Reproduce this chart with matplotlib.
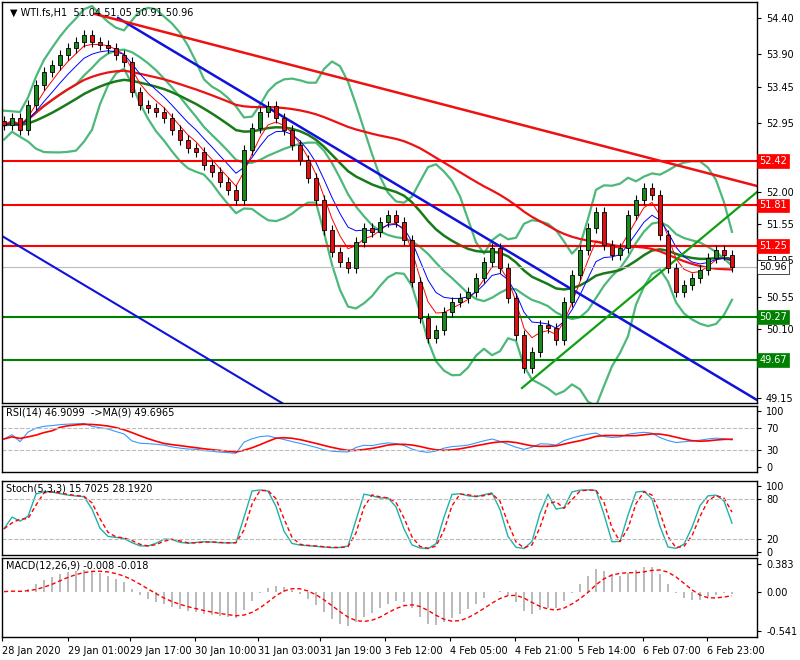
import numpy as np
import pandas as pd
import matplotlib
matplotlib.use("Agg")
import matplotlib.pyplot as plt

closes = [52.92,53.02,52.85,53.20,53.47,53.65,53.75,53.89,53.99,54.07,54.17,54.07,54.03,53.99,53.89,53.79,
53.38,53.20,53.16,53.10,53.02,52.85,52.71,52.60,52.55,52.37,52.27,52.13,52.02,51.89,52.58,52.88,53.10,53.18,
53.02,52.85,52.65,52.44,52.19,51.89,51.47,51.17,51.03,50.95,51.31,51.50,51.44,51.58,51.68,51.58,51.33,50.75,
50.26,49.98,50.09,50.34,50.48,50.53,50.61,50.81,51.03,51.22,50.95,50.53,50.02,49.56,49.79,50.16,50.12,49.95,
50.48,50.85,51.19,51.50,51.72,51.26,51.13,51.22,51.68,51.89,52.05,51.96,51.40,50.95,50.61,50.71,50.81,50.92,
51.08,51.19,51.13,50.96]
first_open = 52.98
hlines_red = [52.42, 51.81, 51.25]
hlines_green = [50.27, 49.67]
last_price = 50.96
price_ticks = [54.40,53.90,53.45,52.95,52.00,51.55,51.05,50.55,50.10,49.15]
time_labels = ["28 Jan 2020","29 Jan 01:00","29 Jan 17:00","30 Jan 10:00","31 Jan 03:00","31 Jan 19:00",
"3 Feb 12:00","4 Feb 05:00","4 Feb 21:00","5 Feb 14:00","6 Feb 07:00","6 Feb 23:00"]
time_label_px = [2,68,130,195,258,320,385,450,515,578,643,707]

c = pd.Series(closes)
o = pd.Series([first_open] + closes[:-1])
wick = 0.07
h = np.maximum(o, c) + wick
l = np.minimum(o, c) - wick
n = len(c)
x = np.arange(n)
px2x = lambda p: (p - 4) / 8.0

W, H = 800, 660
fig = plt.figure(figsize=(8, 6.6), dpi=100)
def ax_at(x0, y0, x1, y1):
    a = fig.add_axes([x0 / W, 1 - y1 / H, (x1 - x0) / W, (y1 - y0) / H])
    a.set_xlim(px2x(2), px2x(757))
    a.tick_params(axis='y', right=True, left=False, labelright=True, labelleft=False, labelsize=7, length=3)
    a.tick_params(axis='x', bottom=False, labelbottom=False)
    for s in a.spines.values():
        s.set_linewidth(1)
    return a

# main
ax = ax_at(2, 2, 757, 403)
p2y = lambda y: 54.40 - (y - 18) / 72.38
ax.set_ylim(p2y(403), p2y(2))
bb_mid = c.rolling(10, min_periods=1).mean()
bb_std = c.rolling(10, min_periods=1).std().fillna(0.1)
for band in [bb_mid + 2 * bb_std, bb_mid - 2 * bb_std, bb_mid]:
    ax.plot(x, band, color='#4cb87a', lw=1.6)
ax.plot(x, c.ewm(span=25, adjust=False).mean(), color='#1a7a1a', lw=1.8)
ax.plot(x, c.rolling(50, min_periods=1).mean(), color='#ee1111', lw=1.6)
ax.plot(x, c.ewm(span=4, adjust=False).mean(), color='red', lw=0.7)
ax.plot(x, c.ewm(span=7, adjust=False).mean(), color='blue', lw=0.7)
for y in hlines_red:
    ax.axhline(y, color='red', lw=1.5)
for y in hlines_green:
    ax.axhline(y, color='green', lw=1.5)
ax.axhline(last_price, color='#bbbbbb', lw=0.8)
ax.plot([px2x(118), px2x(757)], [p2y(18), p2y(400)], color='#1111dd', lw=1.8)
ax.plot([px2x(2), px2x(282)], [p2y(236), p2y(403)], color='#1111dd', lw=1.5)
ax.plot([px2x(95), px2x(757)], [p2y(14), p2y(186)], color='#ee1111', lw=1.8)
ax.plot([px2x(522), px2x(757)], [p2y(388), p2y(192)], color='#11a011', lw=1.6)
for i in range(n):
    col = '#1a8a1a' if c[i] >= o[i] else '#dd1111'
    ax.vlines(i, l[i], h[i], color='black', lw=0.8)
    ax.add_patch(plt.Rectangle((i - 0.28, min(o[i], c[i])), 0.56, max(abs(c[i] - o[i]), 0.01),
                               facecolor=col, edgecolor='black', lw=0.6, zorder=3))
ax.set_yticks(price_ticks)
ax.set_yticklabels([f"{v:.2f}" for v in price_ticks])
for y, colr in [(52.42, 'red'), (51.81, 'red'), (51.25, 'red'), (50.27, 'green'), (49.67, 'green'), (50.96, 'white')]:
    ax.text(1.003, y, f"{y:.2f}", transform=ax.get_yaxis_transform(), fontsize=7, va='center',
            color='black' if colr == 'white' else 'white', zorder=10,
            bbox=dict(boxstyle='square,pad=0.2', fc=colr, ec='black' if colr == 'white' else colr, lw=0.5))
ax.text(0.01, 0.985, "▼ WTI.fs,H1  51.04 51.05 50.91 50.96", transform=ax.transAxes, fontsize=7, va='top')

# RSI
delta = c.diff().fillna(0)
up = delta.clip(lower=0).ewm(alpha=1 / 14, adjust=False).mean() + 0.02
dn = (-delta.clip(upper=0)).ewm(alpha=1 / 14, adjust=False).mean() + 0.02
rsi = 100 - 100 / (1 + up / dn)
ax2 = ax_at(2, 406, 757, 472)
ax2.set_ylim(-8, 108)
ax2.plot(x, rsi, color='#3399ff', lw=0.8)
ax2.plot(x, rsi.rolling(5, min_periods=1).mean(), color='red', lw=1.2)
for v in [70, 30]:
    ax2.axhline(v, color='#bbbbbb', ls='--', lw=0.8)
ax2.set_yticks([0, 30, 70, 100])
ax2.text(0.005, 0.97, "RSI(14) 46.9099  ->MA(9) 49.6965", transform=ax2.transAxes, fontsize=7, va='top')

# Stoch
ax3 = ax_at(2, 481, 757, 555)
ll = l.rolling(3, min_periods=1).min()
hh = h.rolling(3, min_periods=1).max()
k = (100 * (c - ll) / (hh - ll)).rolling(2, min_periods=1).mean()
d = k.rolling(2, min_periods=1).mean()
ax3.set_ylim(-5, 108)
ax3.plot(x, k, color='#20b2aa', lw=1)
ax3.plot(x, d, color='red', lw=1, ls=(0, (3, 2)))
for v in [80, 20]:
    ax3.axhline(v, color='#bbbbbb', ls='--', lw=0.8)
ax3.set_yticks([0, 20, 80, 100])
ax3.text(0.005, 0.97, "Stoch(5,3,3) 15.7025 28.1920", transform=ax3.transAxes, fontsize=7, va='top')

# MACD
ax4 = ax_at(2, 558, 757, 637)
macd = c.ewm(span=6, adjust=False).mean() - c.ewm(span=13, adjust=False).mean()
sig = macd.rolling(5, min_periods=1).mean()
ax4.set_ylim(-0.62, 0.46)
ax4.bar(x, macd, width=0.25, color='#bbbbbb')
ax4.plot(x, sig, color='red', lw=1, ls=(0, (3, 2)))
ax4.set_yticks([-0.541, 0.0, 0.383])
ax4.set_yticklabels(["-0.541", "0.00", "0.383"])
ax4.text(0.005, 0.97, "MACD(12,26,9) -0.008 -0.018", transform=ax4.transAxes, fontsize=7, va='top')
ax4.tick_params(axis='x', bottom=True, labelbottom=True, labelsize=7, length=3)
ax4.set_xticks([px2x(p) for p in time_label_px])
ax4.set_xticklabels(time_labels, ha='left')

fig.savefig("out.png", dpi=100, facecolor='white')
